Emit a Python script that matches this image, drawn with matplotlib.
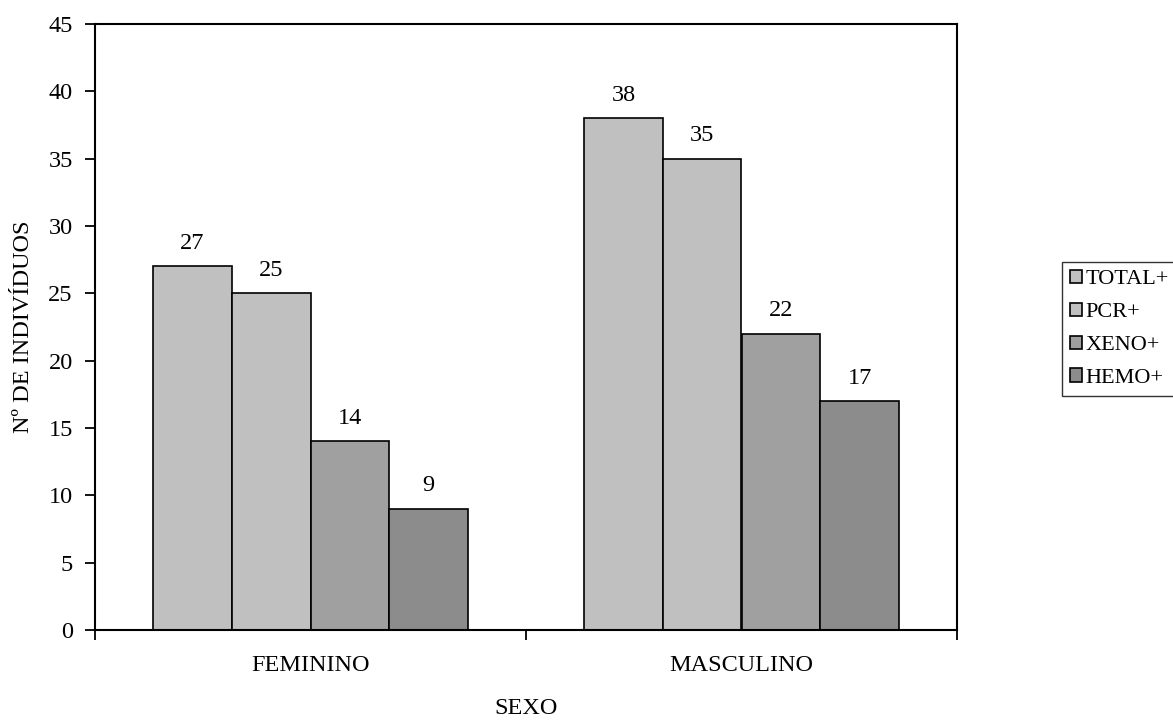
import numpy as np
import matplotlib.pyplot as plt

plt.rcParams['font.family'] = ['Liberation Serif', 'DejaVu Serif']

# data
sexo = ["FEMININO", "MASCULINO"]
series = ["TOTAL+", "PCR+", "XENO+", "HEMO+"]
total = [27, 38]
pcr = [25, 35]
xeno = [14, 22]
hemo = [9, 17]
colors = ["#c0c0c0", "#c0c0c0", "#a0a0a0", "#8c8c8c"]

fs = 17.5

fig = plt.figure(figsize=(11.73, 7.24), dpi=100)
ax = fig.add_axes([95 / 1173, 1 - 630 / 724, (957 - 95) / 1173, (630 - 24) / 724])

x = np.arange(len(sexo))
width = 0.1827
offsets = (np.arange(4) - 1.5) * width
for vals, name, col, off in zip([total, pcr, xeno, hemo], series, colors, offsets):
    bars = ax.bar(x + off, vals, width, color=col, edgecolor="black", linewidth=1.2, label=name)
    for b, v in zip(bars, vals):
        ax.annotate(str(v), (b.get_x() + b.get_width() / 2, v), xytext=(0, 9),
                    textcoords="offset points", ha="center", va="bottom", fontsize=fs)

ax.set_xlim(-0.5, 1.5)
ax.set_ylim(0, 45)
ax.set_yticks(range(0, 46, 5))
ax.set_xticks([-0.5, 0.5, 1.5])
ax.set_xticklabels([])
ax.set_xticks(x, minor=True)
ax.set_xticklabels(sexo, minor=True)
ax.tick_params(axis="x", which="minor", length=0, pad=18, labelsize=fs)
ax.tick_params(axis="x", which="major", direction="out", length=7, width=1.3)
ax.tick_params(axis="y", direction="out", length=7, width=1.3, labelsize=fs, pad=9)
for s in ax.spines.values():
    s.set_linewidth(1.5)

ax.set_ylabel("Nº DE INDIVÍDUOS", fontsize=fs, labelpad=10)
fig.text(526 / 1173, 1 - 708 / 724, "SEXO", ha="center", va="center", fontsize=fs)

fig.legend(loc="upper left", bbox_to_anchor=(1062 / 1173, 1 - 262 / 724), frameon=True,
           fancybox=False, edgecolor="black", fontsize=16, handlelength=0.55, handleheight=0.55,
           handletextpad=0.15, labelspacing=0.6, borderpad=0.35, borderaxespad=0)

fig.savefig("out.png", dpi=100)
